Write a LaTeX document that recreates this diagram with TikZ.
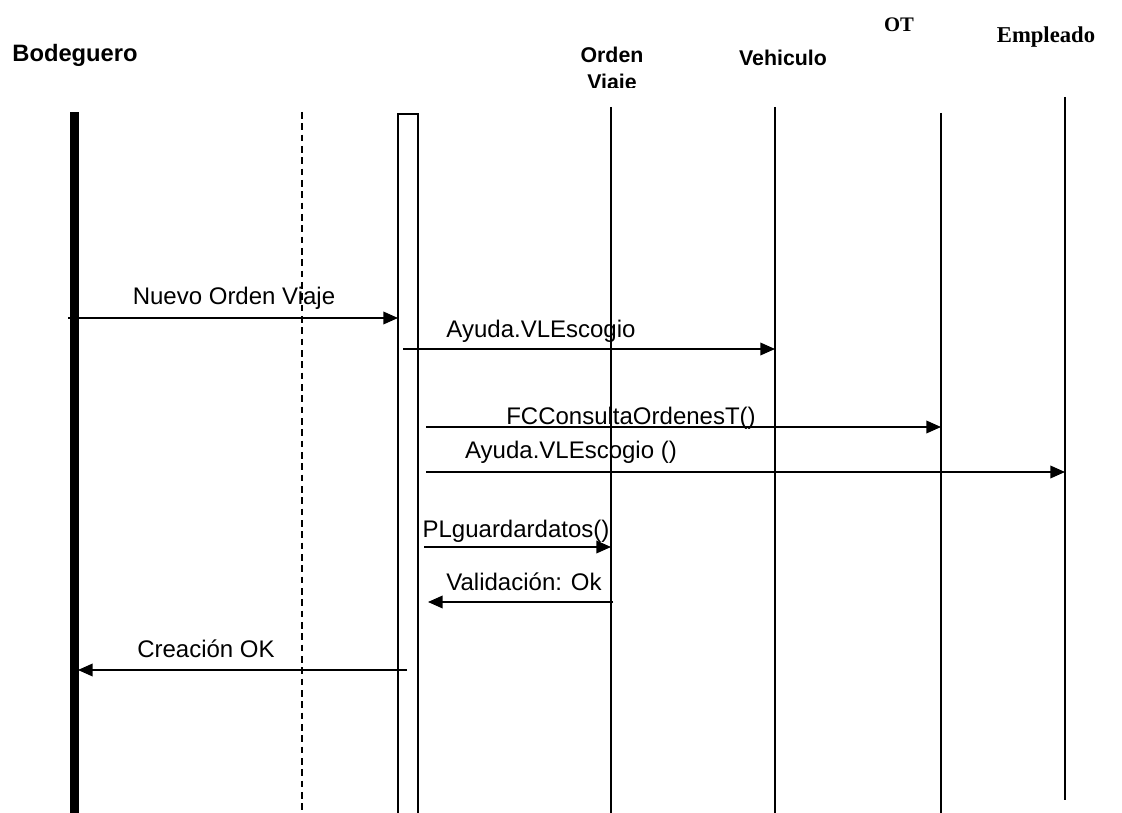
\documentclass[tikz,border=0pt]{standalone}
\usepackage{fontspec}
\setmainfont{Liberation Sans}
\newfontfamily\serifhead{Liberation Serif}
\usetikzlibrary{arrows.meta}

\begin{document}
\begin{tikzpicture}[x=0.75pt,y=-0.75pt,
  msg/.style={line width=1.1pt,-{Triangle[length=11pt,width=9.5pt]}},
  lbl/.style={font=\fontsize{18}{21}\selectfont,inner sep=0pt,anchor=base},
  head/.style={font=\fontsize{16}{20}\selectfont\bfseries,inner sep=0pt,align=center},
  vida/.style={line width=0.8pt}]
            \useasboundingbox (0,0) rectangle (1122,813);
            \coordinate (Dt) at (302,112);
            \coordinate (Db) at (302,813);
            \coordinate (Ot) at (611,107);
            \coordinate (Ob) at (611,813);
            \coordinate (Vt) at (775,107);
            \coordinate (Vb) at (775,813);
            \coordinate (Tt) at (941,113);
            \coordinate (Tb) at (941,813);
            \coordinate (Et) at (1065,97);
            \coordinate (Eb) at (1065,800);
            \node[head,font=\fontsize{17.8}{21}\selectfont\bfseries] (bodeguero) at (75,55) {Bodeguero};
            \begin{scope}
              \clip (550,20) rectangle (680,88);
              \node[head,anchor=north] (orden) at (612,47) {Orden\\Viaje};
            \end{scope}
            \node[head] (vehiculo) at (783,58) {Vehiculo};
            \node[head,font=\fontsize{15.5}{18}\serifhead\bfseries] (ot) at (899,25) {OT};
            \node[head,font=\fontsize{17}{21}\serifhead\bfseries] (empleado) at (1046,37) {Empleado};
            \fill (70,112) rectangle (79,813);
            \draw[vida,dash pattern=on 5pt off 3.5pt] (Dt) -- (Db);
            \draw[vida] (398,813) -- (398,114) -- (418,114) -- (418,813);
            \draw[vida] (Ot) -- (Ob);
            \draw[vida] (Vt) -- (Vb);
            \draw[vida] (Tt) -- (Tb);
            \draw[vida] (Et) -- (Eb);
            \coordinate (m1a) at (68,318);
            \coordinate (m1b) at (398,318);
            \coordinate (m2a) at (403,349);
            \coordinate (m2b) at (775,349);
            \coordinate (m3a) at (426,427);
            \coordinate (m3b) at (941,427);
            \coordinate (m4a) at (426,472);
            \coordinate (m4b) at (1065,472);
            \coordinate (m5a) at (424,547);
            \coordinate (m5b) at (611,547);
            \coordinate (m6a) at (613,602);
            \coordinate (m6b) at (428,602);
            \coordinate (m7a) at (407,670);
            \coordinate (m7b) at (78,670);
            \draw[msg] (m1a) -- (m1b);
            \draw[msg] (m2a) -- (m2b);
            \draw[msg] (m3a) -- (m3b);
            \draw[msg] (m4a) -- (m4b);
            \draw[msg] (m5a) -- (m5b);
            \draw[msg] (m6a) -- (m6b);
            \draw[msg] (m7a) -- (m7b);
            \node[lbl] (l1) at (234,305) {Nuevo Orden Viaje};
            \node[lbl] (l2) at (541,338) {Ayuda.VLEscogio};
            \node[lbl] (l3) at (631,424) {FCConsultaOrdenesT()};
            \node[lbl] (l4) at (571,458) {Ayuda.VLEscogio ()};
            \node[lbl] (l5) at (516,537) {PLguardardatos()};
            \node[lbl] (l6) at (524,590) {Validación: Ok};
            \node[lbl] (l7) at (206,657) {Creación OK};
        \end{tikzpicture}
\end{document}
